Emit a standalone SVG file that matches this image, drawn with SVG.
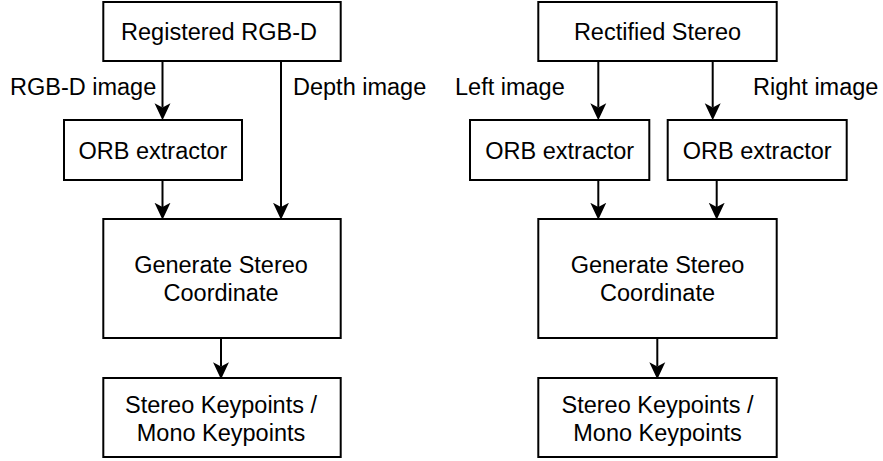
<svg xmlns="http://www.w3.org/2000/svg" width="883" height="461" viewBox="0 0 883 461">
<style>
  .box { fill: #ffffff; stroke: #000000; stroke-width: 2; }
  .t { font-family: "Liberation Sans", Arial, Helvetica, sans-serif; font-size: 23.5px; fill: #000000; }
  .c { text-anchor: middle; }
  .edge { fill: none; stroke: #000000; stroke-width: 2; marker-end: url(#arrow); }
</style>
<defs>
  <marker id="arrow" markerUnits="userSpaceOnUse" markerWidth="17" markerHeight="17" viewBox="0 0 16 15" refX="4" refY="7.5" orient="auto">
    <path d="M0,0 L16,7.5 L0,15 L4,7.5 Z" fill="#000000"/>
  </marker>
</defs>
<rect width="883" height="461" fill="#ffffff"/>

<g id="connectors">
  <line class="edge" x1="162.5" y1="61" x2="162.5" y2="107.5"/>
  <line class="edge" x1="162.5" y1="180" x2="162.5" y2="207"/>
  <line class="edge" x1="281" y1="61" x2="281" y2="207"/>
  <line class="edge" x1="221" y1="338" x2="221" y2="366.5"/>
  <line class="edge" x1="598.3" y1="61" x2="598.3" y2="107.5"/>
  <line class="edge" x1="712.7" y1="61" x2="712.7" y2="107.5"/>
  <line class="edge" x1="598.3" y1="180" x2="598.3" y2="207"/>
  <line class="edge" x1="716.7" y1="180" x2="716.7" y2="207"/>
  <line class="edge" x1="657.3" y1="338" x2="657.3" y2="366.5"/>
</g>

<g id="edge-labels">
  <text class="t" x="10" y="95">RGB-D image</text>
  <text class="t" x="293" y="95">Depth image</text>
  <text class="t" x="455" y="95">Left image</text>
  <text class="t" x="753" y="95">Right image</text>
</g>

<g id="registered-rgbd">
  <rect class="box" x="103.3" y="2" width="237.4" height="59"/>
  <text class="t c" x="219" y="39.5">Registered RGB-D</text>
</g>
<g id="orb-left-1">
  <rect class="box" x="64" y="120" width="178" height="60"/>
  <text class="t c" x="153" y="158.5">ORB extractor</text>
</g>
<g id="generate-1">
  <rect class="box" x="103.3" y="219" width="237.4" height="119"/>
  <text class="t c" x="221" y="273">Generate Stereo</text>
  <text class="t c" x="221" y="301">Coordinate</text>
</g>
<g id="keypoints-1">
  <rect class="box" x="103.3" y="378" width="237.4" height="79"/>
  <text class="t c" x="221" y="412.5">Stereo Keypoints /</text>
  <text class="t c" x="221" y="440.5">Mono Keypoints</text>
</g>

<g id="rectified-stereo">
  <rect class="box" x="538.3" y="2" width="238.4" height="59"/>
  <text class="t c" x="657.5" y="39.5">Rectified Stereo</text>
</g>
<g id="orb-left-2">
  <rect class="box" x="470" y="120" width="179.3" height="60"/>
  <text class="t c" x="559.7" y="158.5">ORB extractor</text>
</g>
<g id="orb-right-2">
  <rect class="box" x="667.7" y="120" width="179" height="60"/>
  <text class="t c" x="757.2" y="158.5">ORB extractor</text>
</g>
<g id="generate-2">
  <rect class="box" x="538.3" y="219" width="238.4" height="119"/>
  <text class="t c" x="657.5" y="273">Generate Stereo</text>
  <text class="t c" x="657.5" y="301">Coordinate</text>
</g>
<g id="keypoints-2">
  <rect class="box" x="538.3" y="378" width="238.4" height="79"/>
  <text class="t c" x="657.5" y="412.5">Stereo Keypoints /</text>
  <text class="t c" x="657.5" y="440.5">Mono Keypoints</text>
</g>
</svg>
